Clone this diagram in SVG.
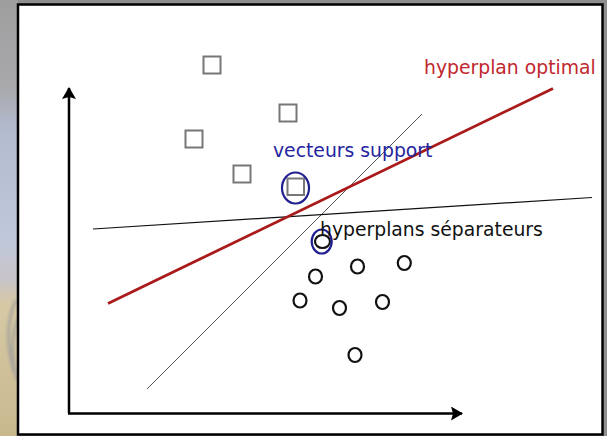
<svg xmlns="http://www.w3.org/2000/svg" width="607" height="436" viewBox="0 0 607 436">
  <style>
    .sq { fill: #ffffff; stroke: #777777; stroke-width: 2; }
    .pt { fill: none; stroke: #111111; stroke-width: 2.2; }
    .sv { fill: none; stroke: #1f1f8f; stroke-width: 2.2; }
    .axis { stroke: #000000; stroke-width: 2.5; fill: none; }
    .lbl { font-family: "DejaVu Sans", "Liberation Sans", sans-serif; font-size: 18.8px; }
  </style>
  <defs>
    <linearGradient id="strip" x1="0" y1="0" x2="0" y2="1">
      <stop offset="0" stop-color="#9e9e9e"/>
      <stop offset="0.2" stop-color="#a9a9ad"/>
      <stop offset="0.3" stop-color="#b3bbcf"/>
      <stop offset="0.55" stop-color="#bfc7da"/>
      <stop offset="0.64" stop-color="#c8c4c8"/>
      <stop offset="0.7" stop-color="#d6c9a4"/>
      <stop offset="1" stop-color="#c9b88e"/>
    </linearGradient>
    <filter id="soft" x="-50%" y="-50%" width="200%" height="200%">
      <feGaussianBlur stdDeviation="1.5"/>
    </filter>
    <marker id="head" viewBox="0 0 12 14" refX="11" refY="7" markerWidth="12" markerHeight="14" markerUnits="userSpaceOnUse" orient="auto">
      <path d="M0,0 L12,7 L0,14 L2,7 Z" fill="#000000"/>
    </marker>
  </defs>

  <!-- surrounding backdrop -->
  <rect x="0" y="0" width="607" height="436" fill="#8f8f92"/>
  <rect x="0" y="0" width="18" height="436" fill="url(#strip)"/>
  <g filter="url(#soft)" fill="none" stroke="#9a9a9c" stroke-width="3" opacity="0.7">
    <path d="M16,300 Q2,330 14,372"/>
    <path d="M18,318 Q8,345 17,380"/>
  </g>

  <!-- white panel with black frame -->
  <rect x="18" y="4.5" width="584.5" height="430" fill="#ffffff" stroke="#000000" stroke-width="2.5"/>

  <!-- axes and separating lines -->
  <g id="connectors">
    <line class="axis" x1="69" y1="413.5" x2="69" y2="88" marker-end="url(#head)"/>
    <line class="axis" x1="68" y1="413.5" x2="462" y2="413.5" marker-end="url(#head)"/>
    <line x1="147" y1="389" x2="422" y2="114" stroke="#555555" stroke-width="1"/>
    <line x1="93" y1="229" x2="592" y2="197.5" stroke="#111111" stroke-width="1.2"/>
    <line x1="108" y1="303.5" x2="553" y2="88.5" stroke="#aa1a1a" stroke-width="2.8"/>
  </g>

  <!-- class one: squares -->
  <g id="square-1"><rect class="sq" x="203.5" y="56.5" width="17" height="17"/></g>
  <g id="square-2"><rect class="sq" x="279.5" y="104.5" width="17" height="17"/></g>
  <g id="square-3"><rect class="sq" x="185.5" y="130.5" width="17" height="17"/></g>
  <g id="square-4"><rect class="sq" x="233.5" y="165.5" width="17" height="17"/></g>
  <g id="square-5">
    <rect class="sq" x="287.5" y="178.5" width="16.5" height="16.5"/>
    <ellipse class="sv" cx="295.5" cy="188" rx="13.5" ry="15.5"/>
  </g>

  <!-- class two: circles -->
  <g id="circle-1">
    <ellipse class="pt" cx="322.5" cy="241.5" rx="7.5" ry="6.5"/>
    <ellipse class="sv" cx="321.7" cy="241.5" rx="10" ry="12"/>
  </g>
  <g id="circle-2"><ellipse class="pt" cx="315.5" cy="276.5" rx="6.5" ry="7"/></g>
  <g id="circle-3"><ellipse class="pt" cx="357.5" cy="266.5" rx="6.5" ry="7"/></g>
  <g id="circle-4"><ellipse class="pt" cx="404.3" cy="263" rx="6.5" ry="7"/></g>
  <g id="circle-5"><ellipse class="pt" cx="300" cy="300.5" rx="6.5" ry="7"/></g>
  <g id="circle-6"><ellipse class="pt" cx="339.5" cy="308" rx="6.5" ry="7"/></g>
  <g id="circle-7"><ellipse class="pt" cx="382.5" cy="302" rx="6.5" ry="7"/></g>
  <g id="circle-8"><ellipse class="pt" cx="355" cy="355" rx="6.5" ry="7"/></g>

  <!-- labels -->
  <g id="label-optimal"><text class="lbl" x="424" y="74" fill="#c1272d">hyperplan optimal</text></g>
  <g id="label-support"><text class="lbl" x="273" y="157" fill="#2525a0">vecteurs support</text></g>
  <g id="label-separateurs"><text class="lbl" x="320" y="236" fill="#111111">hyperplans séparateurs</text></g>
</svg>
